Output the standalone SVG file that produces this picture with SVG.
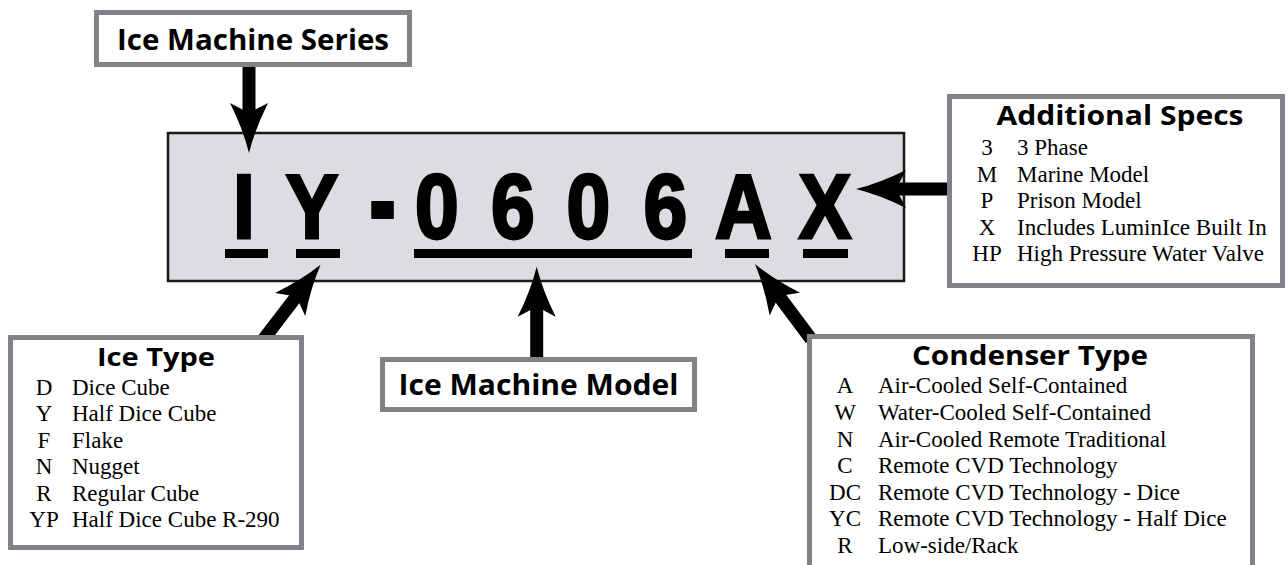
<svg xmlns="http://www.w3.org/2000/svg" width="1288" height="565" viewBox="0 0 1288 565">
<style>
.frame{fill:#fff;stroke:#808285;stroke-width:5}
.title{font-family:"Open Sans","Liberation Sans",sans-serif;font-weight:700;fill:#000;text-anchor:middle}
.row{font-family:"Liberation Serif","DejaVu Serif",serif;font-size:23px;fill:#000}
.code{text-anchor:middle}
.big{font-family:"Liberation Sans",Arial,sans-serif;font-weight:700;font-size:91px;fill:#000;stroke:#000;stroke-width:3;text-anchor:middle}
.ul{fill:#000}
.shaft{stroke:#000;stroke-width:13;fill:none;marker-end:url(#head)}
</style>
<defs>
<marker id="head" markerUnits="userSpaceOnUse" viewBox="-12 -21 58 42" markerWidth="58" markerHeight="42" refX="5" refY="0" orient="auto" overflow="visible">
<path d="M40,0 Q16,-6 -10,-19 L0,0 L-10,19 Q16,6 40,0 Z" fill="#000"/>
</marker>
</defs>
<rect width="1288" height="565" fill="#fff"/>

<g id="model-number">
<rect x="168" y="133" width="736" height="148" fill="#dcdde0" stroke="#1a1a1a" stroke-width="2.5"/>
<text class="big" transform="translate(244 237.5) scale(0.865 1)">I</text>
<text class="big" transform="translate(312 237.5) scale(0.865 1)">Y</text>
<text class="big" transform="translate(382.5 240.5) scale(0.865 1.3)">-</text>
<text class="big" transform="translate(437 237.5) scale(0.865 1)">0</text>
<text class="big" transform="translate(513 237.5) scale(0.865 1)">6</text>
<text class="big" transform="translate(588.5 237.5) scale(0.865 1)">0</text>
<text class="big" transform="translate(665.5 237.5) scale(0.865 1)">6</text>
<text class="big" transform="translate(743.5 237.5) scale(0.865 1)">A</text>
<text class="big" transform="translate(825 237.5) scale(0.865 1)">X</text>
<rect class="ul" x="225" y="249" width="43" height="9"/>
<rect class="ul" x="296" y="249" width="44" height="9"/>
<rect class="ul" x="414" y="249" width="278" height="9"/>
<rect class="ul" x="725" y="249" width="44" height="9"/>
<rect class="ul" x="803" y="249" width="45" height="9"/>
</g>

<g id="connectors">
<line class="shaft" x1="249" y1="64" x2="249" y2="118"/>
<line class="shaft" x1="263" y1="340" x2="299.3" y2="292.6"/>
<line class="shaft" x1="536.7" y1="362" x2="536.7" y2="301.7"/>
<line class="shaft" x1="811" y1="339" x2="775.9" y2="292"/>
<line class="shaft" x1="952" y1="189" x2="891" y2="189"/>
</g>

<g id="series">
<rect class="frame" x="96.5" y="12.5" width="313" height="52"/>
<text class="title" x="253" y="50" font-size="29" textLength="272" lengthAdjust="spacingAndGlyphs">Ice Machine Series</text>
</g>

<g id="ice-type">
<rect class="frame" x="10.5" y="337.5" width="291" height="210"/>
<text class="title" x="156" y="366" font-size="25" textLength="118" lengthAdjust="spacingAndGlyphs">Ice Type</text>
<g class="row">
<text class="code" x="44" y="395">D</text><text x="72" y="395">Dice Cube</text>
<text class="code" x="44" y="421.4">Y</text><text x="72" y="421.4">Half Dice Cube</text>
<text class="code" x="44" y="447.8">F</text><text x="72" y="447.8">Flake</text>
<text class="code" x="44" y="474.2">N</text><text x="72" y="474.2">Nugget</text>
<text class="code" x="44" y="500.6">R</text><text x="72" y="500.6">Regular Cube</text>
<text class="code" x="44" y="527">YP</text><text x="72" y="527">Half Dice Cube R-290</text>
</g>
</g>

<g id="machine-model">
<rect class="frame" x="382.5" y="359.5" width="312" height="50"/>
<text class="title" x="538.5" y="395" font-size="28" textLength="280" lengthAdjust="spacingAndGlyphs">Ice Machine Model</text>
</g>

<g id="condenser-type">
<rect class="frame" x="809.5" y="336.5" width="443" height="260"/>
<text class="title" x="1030" y="365" font-size="26" textLength="236" lengthAdjust="spacingAndGlyphs">Condenser Type</text>
<g class="row">
<text class="code" x="845" y="393.3">A</text><text x="878" y="393.3">Air-Cooled Self-Contained</text>
<text class="code" x="845" y="420">W</text><text x="878" y="420">Water-Cooled Self-Contained</text>
<text class="code" x="845" y="446.6">N</text><text x="878" y="446.6">Air-Cooled Remote Traditional</text>
<text class="code" x="845" y="473.2">C</text><text x="878" y="473.2">Remote CVD Technology</text>
<text class="code" x="845" y="499.8">DC</text><text x="878" y="499.8">Remote CVD Technology - Dice</text>
<text class="code" x="845" y="526.4">YC</text><text x="878" y="526.4">Remote CVD Technology - Half Dice</text>
<text class="code" x="845" y="553">R</text><text x="878" y="553">Low-side/Rack</text>
</g>
</g>

<g id="additional-specs">
<rect class="frame" x="949.5" y="96.5" width="333" height="189"/>
<text class="title" x="1120" y="125" font-size="26" textLength="247" lengthAdjust="spacingAndGlyphs">Additional Specs</text>
<g class="row">
<text class="code" x="987" y="155">3</text><text x="1017" y="155">3 Phase</text>
<text class="code" x="987" y="181.6">M</text><text x="1017" y="181.6">Marine Model</text>
<text class="code" x="987" y="208.2">P</text><text x="1017" y="208.2">Prison Model</text>
<text class="code" x="987" y="234.8">X</text><text x="1017" y="234.8">Includes LuminIce Built In</text>
<text class="code" x="987" y="261.4">HP</text><text x="1017" y="261.4">High Pressure Water Valve</text>
</g>
</g>
</svg>
